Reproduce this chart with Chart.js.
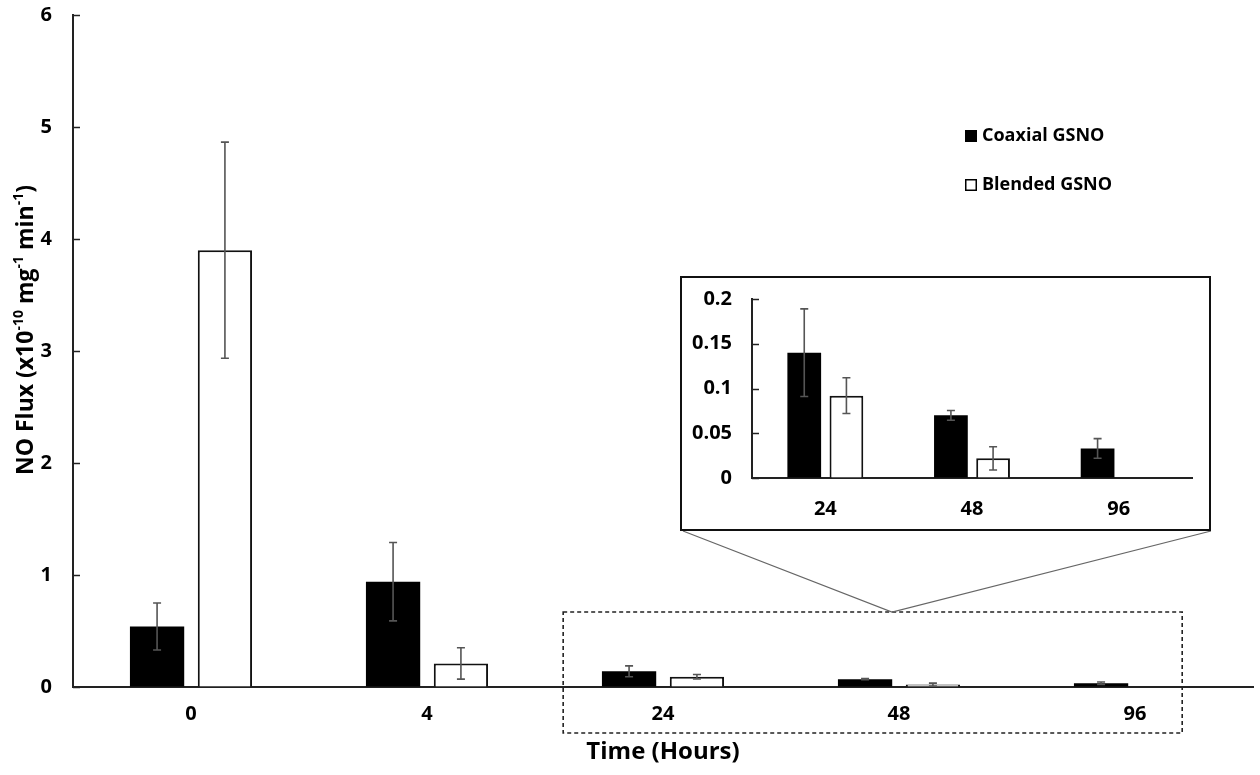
<!DOCTYPE html>
<html>
<head>
<meta charset="utf-8">
<script src="https://cdn.jsdelivr.net/npm/chart.js@4.4.0/dist/chart.umd.min.js"></script>
<style>
html,body{margin:0;padding:0;background:#fff;}
#wrap{position:relative;width:1260px;height:775px;overflow:hidden;}
#main{position:absolute;left:0;top:0;}
#insetBox{position:absolute;left:680px;top:276px;width:527px;height:251px;border:2px solid #111;background:#fff;}
#inset{position:absolute;left:0;top:0;}
</style>
</head>
<body>
<div id="wrap">
  <canvas id="main" width="1260" height="775"></canvas>
  <div id="insetBox"><canvas id="inset" width="527" height="251"></canvas></div>
</div>
<script>
// ---- data ----
const categories = ['0', '4', '24', '48', '96'];
const coaxial = [0.54, 0.94, 0.14, 0.07, 0.033];
const coaxialErr = [0.21, 0.35, 0.049, 0.0055, 0.011];
const blended = [3.90, 0.21, 0.092, 0.022, null];
const blendedErr = [0.965, 0.14, 0.02, 0.013, null];
const seriesNames = ['Coaxial GSNO', 'Blended GSNO'];
const mainYTicks = [0, 1, 2, 3, 4, 5, 6];
const insetCategories = ['24', '48', '96'];
const insetCoaxial = [0.14, 0.07, 0.033];
const insetCoaxialErr = [0.049, 0.0055, 0.011];
const insetBlended = [0.092, 0.022, null];
const insetBlendedErr = [0.02, 0.013, null];
const insetYTicks = ['0', '0.05', '0.1', '0.15', '0.2'];
const xTitle = 'Time (Hours)';

const FONT = '"Open Sans", "Liberation Sans", sans-serif';

function errorBarPlugin(id, capHalf) {
  return {
    id: id,
    afterDatasetsDraw(chart) {
      const ctx = chart.ctx;
      const y = chart.scales.y;
      ctx.save();
      ctx.strokeStyle = '#555';
      ctx.lineWidth = 1.6;
      chart.data.datasets.forEach((ds, di) => {
        const meta = chart.getDatasetMeta(di);
        meta.data.forEach((bar, i) => {
          const v = ds.data[i];
          const e = ds.errors[i];
          if (v == null || e == null) return;
          const yt = y.getPixelForValue(v + e);
          const yb = y.getPixelForValue(Math.max(v - e, 0));
          const x = bar.x;
          ctx.beginPath();
          ctx.moveTo(x, yt); ctx.lineTo(x, yb);
          ctx.moveTo(x - capHalf, yt); ctx.lineTo(x + capHalf, yt);
          ctx.moveTo(x - capHalf, yb); ctx.lineTo(x + capHalf, yb);
          ctx.stroke();
        });
      });
      ctx.restore();
    }
  };
}

function insideTicksPlugin(id, len) {
  return {
    id: id,
    afterDraw(chart) {
      const ctx = chart.ctx;
      const y = chart.scales.y;
      const x0 = chart.chartArea.left;
      ctx.save();
      ctx.strokeStyle = '#222';
      ctx.lineWidth = 1.5;
      y.ticks.forEach(t => {
        const py = Math.round(y.getPixelForValue(t.value)) + 0.5;
        ctx.beginPath();
        ctx.moveTo(x0, py); ctx.lineTo(x0 + len, py);
        ctx.stroke();
      });
      ctx.restore();
    }
  };
}

const decorPlugin = {
  id: 'decor',
  afterDraw(chart) {
    const ctx = chart.ctx;
    const xs = chart.scales.x;
    const ys = chart.scales.y;
    const step = xs.getPixelForValue(1) - xs.getPixelForValue(0);
    // dashed zoom region around 24..96
    const left = xs.getPixelForValue(2) - step * 0.423;
    const right = xs.getPixelForValue(4) + step * 0.2;
    const top = ys.getPixelForValue(0) - 75;
    const bottom = ys.getPixelForValue(0) + 46;
    ctx.save();
    ctx.strokeStyle = '#222';
    ctx.lineWidth = 1.6;
    ctx.setLineDash([4, 3]);
    ctx.strokeRect(left, top, right - left, bottom - top);
    ctx.setLineDash([]);
    // connector lines to inset
    const apexX = 892;
    ctx.strokeStyle = '#666';
    ctx.lineWidth = 1.2;
    ctx.beginPath();
    ctx.moveTo(683, 531); ctx.lineTo(apexX, top);
    ctx.lineTo(1211, 531);
    ctx.stroke();
    // legend
    ctx.fillStyle = '#000';
    ctx.fillRect(965, 130, 12, 12);
    ctx.strokeStyle = '#000';
    ctx.lineWidth = 1.5;
    ctx.strokeRect(965.75, 179.75, 10.5, 10.5);
    ctx.font = 'bold 18px ' + FONT;
    ctx.textBaseline = 'middle';
    ctx.textAlign = 'left';
    ctx.fillText(seriesNames[0], 982, 136);
    ctx.fillText(seriesNames[1], 982, 185);
    // y title with superscripts
    const parts = [
      ['NO Flux (x10', false], ['-10', true], [' mg', false], ['-1', true],
      [' min', false], ['-1', true], [')', false]
    ];
    const big = 'bold 23px ' + FONT, small = 'bold 14px ' + FONT;
    let total = 0;
    parts.forEach(p => { ctx.font = p[1] ? small : big; total += ctx.measureText(p[0]).width; });
    ctx.translate(24, 330);
    ctx.rotate(-Math.PI / 2);
    let cx = -total / 2;
    ctx.textBaseline = 'alphabetic';
    parts.forEach(p => {
      ctx.font = p[1] ? small : big;
      ctx.fillText(p[0], cx, p[1] ? -1 : 9);
      cx += ctx.measureText(p[0]).width;
    });
    ctx.restore();
  }
};

Chart.defaults.font.family = FONT;
Chart.defaults.color = '#000';

new Chart(document.getElementById('main'), {
  type: 'bar',
  data: {
    labels: categories,
    datasets: [
      { label: seriesNames[0], data: coaxial, errors: coaxialErr, backgroundColor: '#000', borderColor: '#000', borderWidth: 0 },
      { label: seriesNames[1], data: blended, errors: blendedErr, backgroundColor: '#fff', borderColor: '#111', borderWidth: 2 }
    ]
  },
  options: {
    responsive: false,
    animation: false,
    events: [],
    categoryPercentage: 0.575,
    barPercentage: 0.8,
    layout: { padding: { top: 15, right: 7, left: 0, bottom: 0 } },
    plugins: { legend: { display: false }, tooltip: { enabled: false } },
    scales: {
      x: {
        grid: { display: true, drawOnChartArea: false, drawTicks: false },
        border: { display: true, color: '#222', width: 2 },
        ticks: { font: { size: 20, weight: 'bold' }, padding: 15, color: '#000' },
        title: { display: true, text: xTitle, font: { size: 24, weight: 'bold' }, color: '#000', padding: { top: 8, bottom: 8 } },
        afterFit(s) { s.height = 88; s.paddingLeft = 0; s.paddingRight = 0; }
      },
      y: {
        min: 0, max: 6,
        grid: { display: true, drawOnChartArea: false, drawTicks: false },
        border: { display: true, color: '#222', width: 2 },
        ticks: { stepSize: 1, font: { size: 20, weight: 'bold' }, padding: 21, color: '#000',
                 callback: (v, i) => String(mainYTicks[i]) },
        afterFit(s) { s.width = 73; s.paddingTop = 0; s.paddingBottom = 0; }
      }
    }
  },
  plugins: [errorBarPlugin('eb1', 4), insideTicksPlugin('it1', 7), decorPlugin]
});

new Chart(document.getElementById('inset'), {
  type: 'bar',
  data: {
    labels: insetCategories,
    datasets: [
      { label: seriesNames[0], data: insetCoaxial, errors: insetCoaxialErr, backgroundColor: '#000', borderColor: '#000', borderWidth: 0 },
      { label: seriesNames[1], data: insetBlended, errors: insetBlendedErr, backgroundColor: '#fff', borderColor: '#111', borderWidth: 2 }
    ]
  },
  options: {
    responsive: false,
    animation: false,
    events: [],
    categoryPercentage: 0.575,
    barPercentage: 0.8,
    layout: { padding: { top: 21, right: 17, left: 0, bottom: 0 } },
    plugins: { legend: { display: false }, tooltip: { enabled: false } },
    scales: {
      x: {
        grid: { display: true, drawOnChartArea: false, drawTicks: false },
        border: { display: true, color: '#222', width: 2 },
        ticks: { font: { size: 20, weight: 'bold' }, padding: 19, color: '#000' },
        afterFit(s) { s.height = 51; s.paddingLeft = 0; s.paddingRight = 0; }
      },
      y: {
        min: 0, max: 0.2,
        grid: { display: true, drawOnChartArea: false, drawTicks: false },
        border: { display: true, color: '#222', width: 2 },
        ticks: { stepSize: 0.05, font: { size: 20, weight: 'bold' }, padding: 20, color: '#000',
                 callback: (v, i) => insetYTicks[i] },
        afterFit(s) { s.width = 70; s.paddingTop = 0; s.paddingBottom = 0; }
      }
    }
  },
  plugins: [errorBarPlugin('eb2', 4), insideTicksPlugin('it2', 7)]
});
</script>
</body>
</html>
